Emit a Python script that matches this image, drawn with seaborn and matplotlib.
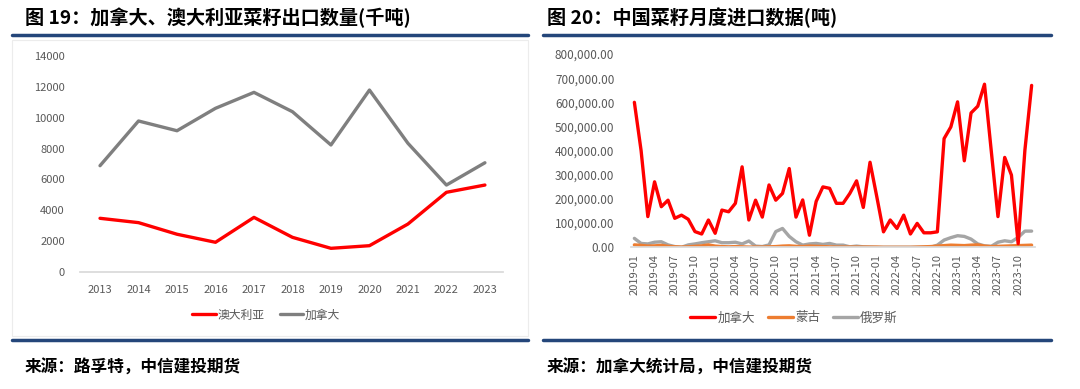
import pandas as pd
import seaborn as sns
import matplotlib.pyplot as plt
from matplotlib.lines import Line2D
from matplotlib.patches import Rectangle

# Figure 19: annual rapeseed exports (thousand tonnes)
years = list(range(2013, 2024))
australia = [3490, 3210, 2460, 1940, 3550, 2260, 1550, 1720, 3120, 5170, 5640]
canada = [6890, 9780, 9150, 10600, 11630, 10380, 8230, 11780, 8340, 5640, 7080]

# Figure 20: China monthly rapeseed imports (tonnes), 2019-01 .. 2023-12
months = pd.period_range("2019-01", "2023-12", freq="M").strftime("%Y-%m").tolist()
imp_canada = [
    600, 400, 127, 271, 168, 195, 120, 133, 116, 65, 55, 113,
    58, 154, 147, 182, 333, 113, 195, 125, 258, 195, 223, 326,
    125, 196, 50, 190, 250, 244, 182, 182, 223, 275, 165, 352,
    210, 64, 113, 78, 133, 55, 99, 60, 60, 64, 450, 498,
    602, 358, 556, 584, 675, 400, 127, 372, 299, 15, 402, 670,
]
imp_mongolia = [
    10, 8, 5, 6, 8, 4, 2, 1, 2, 4, 6, 10,
    5, 3, 2, 3, 2, 1, 1, 1, 2, 3, 5, 6,
    4, 3, 5, 4, 3, 2, 1, 1, 1, 1, 1, 1,
    1, 0, 0, 0, 0, 0, 1, 2, 3, 5, 7, 9,
    8, 7, 9, 10, 5, 3, 4, 5, 6, 7, 8, 9,
]
imp_russia = [
    37, 16, 14, 21, 23, 10, 3, 0, 10, 14, 19, 23,
    27, 19, 19, 21, 14, 26, 5, 3, 10, 65, 78, 45,
    23, 9, 14, 16, 12, 16, 9, 9, 2, 5, 2, 1,
    0, 0, 0, 0, 0, 0, 0, 0, 0, 9, 30, 40,
    48, 45, 34, 14, 6, 4, 21, 27, 23, 41, 67, 67,
]

sns.set_theme(style="white")
plt.rcParams["font.family"] = ["Noto Sans CJK SC", "DejaVu Sans"]

W, H = 1080, 389
fig = plt.figure(figsize=(W / 100, H / 100), dpi=100)


def fx(px):
    return px / W


def fy(py):
    return 1 - py / H


TICK_C = "#595959"
AXIS_C = "#d9d9d9"
NAVY = "#24467a"
LW = 2.4

# ---------- left chart ----------
df1 = pd.DataFrame({
    "year": years * 2,
    "value": australia + canada,
    "country": ["澳大利亚"] * len(years) + ["加拿大"] * len(years),
})
ax1 = fig.add_axes([fx(80), fy(272.3), fx(503) - fx(80), fy(55.7) - fy(272.3)])
sns.lineplot(data=df1, x="year", y="value", hue="country",
             palette={"澳大利亚": "#ff0000", "加拿大": "#7f7f7f"},
             linewidth=LW, ax=ax1, legend=False)
ax1.set_xlim(2012.48, 2023.47)
ax1.set_ylim(0, 14000)
ax1.set_xticks(years)
ax1.set_yticks(range(0, 14001, 2000))
ax1.set_xlabel("")
ax1.set_ylabel("")
ax1.tick_params(axis="both", labelsize=8, colors=TICK_C, length=0, pad=9)
ax1.tick_params(axis="y", pad=11)
for s in ["top", "right", "left"]:
    ax1.spines[s].set_visible(False)
ax1.spines["bottom"].set_color(AXIS_C)
ax1.grid(False)

h1 = [Line2D([], [], color="#ff0000", lw=LW), Line2D([], [], color="#7f7f7f", lw=LW)]
fig.legend(h1, ["澳大利亚", "加拿大"], loc="center", ncol=2,
           bbox_to_anchor=(fx(266), fy(315)), frameon=False, fontsize=8.5,
           labelcolor=TICK_C, handlelength=2.0, handletextpad=0.1, columnspacing=1.3)

# ---------- right chart ----------
n = len(months)
df2 = pd.DataFrame({
    "idx": list(range(n)) * 3,
    "value": [v * 1000 for v in imp_canada + imp_mongolia + imp_russia],
    "country": ["加拿大"] * n + ["蒙古"] * n + ["俄罗斯"] * n,
})
ax2 = fig.add_axes([fx(631), fy(247.3), fx(1035) - fx(631), fy(54) - fy(247.3)])
sns.lineplot(data=df2, x="idx", y="value", hue="country",
             hue_order=["俄罗斯", "蒙古", "加拿大"],
             palette={"加拿大": "#ff0000", "蒙古": "#ed7d31", "俄罗斯": "#a5a5a5"},
             linewidth=LW, ax=ax2, legend=False)
ax2.set_xlim(-0.5, n - 0.5)
ax2.set_ylim(0, 800000)
ax2.set_yticks(range(0, 800001, 100000))
ax2.set_yticklabels([f"{v:,.2f}" for v in range(0, 800001, 100000)])
ax2.set_xticks(range(0, n, 3))
ax2.set_xticklabels(months[::3], rotation=90)
ax2.set_xlabel("")
ax2.set_ylabel("")
ax2.tick_params(axis="y", labelsize=8.5, colors=TICK_C, length=0, pad=12)
ax2.tick_params(axis="x", labelsize=8, colors=TICK_C, length=3, width=0.8,
                color=AXIS_C, pad=2)
for s in ["top", "right", "left"]:
    ax2.spines[s].set_visible(False)
ax2.spines["bottom"].set_color(AXIS_C)
ax2.grid(False)

h2 = [Line2D([], [], color=c, lw=LW) for c in ["#ff0000", "#ed7d31", "#a5a5a5"]]
fig.legend(h2, ["加拿大", "蒙古", "俄罗斯"], loc="center", ncol=3,
           bbox_to_anchor=(fx(794), fy(318)), frameon=False, fontsize=9,
           labelcolor=TICK_C, handlelength=2.0, handletextpad=0.2, columnspacing=1.0)

# ---------- titles, rules, sources ----------
fig.text(fx(25), fy(18), "图 19：加拿大、澳大利亚菜籽出口数量(千吨)", fontsize=13.8,
         fontweight="bold", va="center", ha="left", color="black")
fig.text(fx(547), fy(18), "图 20：中国菜籽月度进口数据(吨)", fontsize=13.8,
         fontweight="bold", va="center", ha="left", color="black")

for x0, x1 in [(12, 528), (543, 1051)]:
    for yy in (35, 340):
        fig.add_artist(Line2D([fx(x0), fx(x1)], [fy(yy), fy(yy)], color=NAVY, lw=2.5))

fig.add_artist(Rectangle((fx(12), fy(336)), fx(528) - fx(12), fy(40) - fy(336),
                         fill=False, edgecolor="#ececec", lw=0.8))

fig.text(fx(25), fy(368), "来源：路孚特，中信建投期货", fontsize=12,
         fontweight="bold", va="center", ha="left", color="black")
fig.text(fx(547), fy(368), "来源：加拿大统计局，中信建投期货", fontsize=12,
         fontweight="bold", va="center", ha="left", color="black")

fig.savefig("out.png", dpi=100)
plt.close(fig)
